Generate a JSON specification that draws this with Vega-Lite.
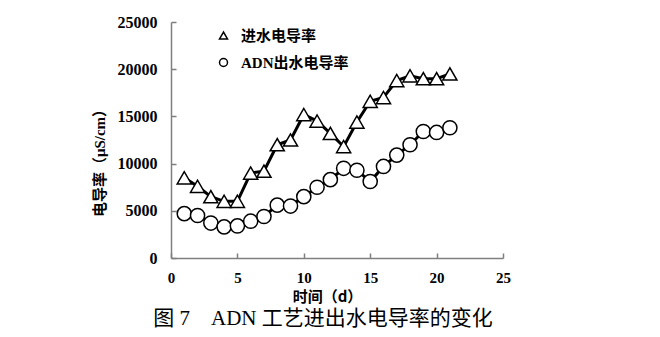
{
  "$schema": "https://vega.github.io/schema/vega-lite/v6.json",
  "width": 332,
  "height": 236,
  "autosize": {"type": "none"},
  "padding": {"left": 171, "top": 22, "right": 157, "bottom": 79},
  "background": "white",
  "config": {"view": {"stroke": null}},
  "title": {
    "text": "图 7　ADN 工艺进出水电导率的变化",
    "orient": "bottom",
    "anchor": "middle",
    "dx": -14,
    "offset": 4,
    "font": "Liberation Serif, Noto Sans CJK SC",
    "fontSize": 21,
    "fontWeight": "normal",
    "color": "#000000"
  },
  "data": {
    "values": [
      {"day": 1, "series": "进水电导率", "value": 8500},
      {"day": 2, "series": "进水电导率", "value": 7600},
      {"day": 3, "series": "进水电导率", "value": 6500},
      {"day": 4, "series": "进水电导率", "value": 6000},
      {"day": 5, "series": "进水电导率", "value": 6000},
      {"day": 6, "series": "进水电导率", "value": 9000},
      {"day": 7, "series": "进水电导率", "value": 9200},
      {"day": 8, "series": "进水电导率", "value": 12000},
      {"day": 9, "series": "进水电导率", "value": 12500},
      {"day": 10, "series": "进水电导率", "value": 15200},
      {"day": 11, "series": "进水电导率", "value": 14500},
      {"day": 12, "series": "进水电导率", "value": 13200},
      {"day": 13, "series": "进水电导率", "value": 11800},
      {"day": 14, "series": "进水电导率", "value": 14400},
      {"day": 15, "series": "进水电导率", "value": 16600},
      {"day": 16, "series": "进水电导率", "value": 17000},
      {"day": 17, "series": "进水电导率", "value": 18800},
      {"day": 18, "series": "进水电导率", "value": 19300},
      {"day": 19, "series": "进水电导率", "value": 19000},
      {"day": 20, "series": "进水电导率", "value": 19000},
      {"day": 21, "series": "进水电导率", "value": 19500},
      {"day": 1, "series": "ADN出水电导率", "value": 4700},
      {"day": 2, "series": "ADN出水电导率", "value": 4500},
      {"day": 3, "series": "ADN出水电导率", "value": 3700},
      {"day": 4, "series": "ADN出水电导率", "value": 3300},
      {"day": 5, "series": "ADN出水电导率", "value": 3400},
      {"day": 6, "series": "ADN出水电导率", "value": 3900},
      {"day": 7, "series": "ADN出水电导率", "value": 4400},
      {"day": 8, "series": "ADN出水电导率", "value": 5600},
      {"day": 9, "series": "ADN出水电导率", "value": 5500},
      {"day": 10, "series": "ADN出水电导率", "value": 6500},
      {"day": 11, "series": "ADN出水电导率", "value": 7500},
      {"day": 12, "series": "ADN出水电导率", "value": 8300},
      {"day": 13, "series": "ADN出水电导率", "value": 9500},
      {"day": 14, "series": "ADN出水电导率", "value": 9300},
      {"day": 15, "series": "ADN出水电导率", "value": 8100},
      {"day": 16, "series": "ADN出水电导率", "value": 9700},
      {"day": 17, "series": "ADN出水电导率", "value": 10900},
      {"day": 18, "series": "ADN出水电导率", "value": 12000},
      {"day": 19, "series": "ADN出水电导率", "value": 13400},
      {"day": 20, "series": "ADN出水电导率", "value": 13300},
      {"day": 21, "series": "ADN出水电导率", "value": 13800}
    ]
  },
  "encoding": {
    "x": {
      "field": "day",
      "type": "quantitative",
      "scale": {"domain": [0, 25], "nice": false, "zero": false},
      "axis": {
        "values": [0, 5, 10, 15, 20, 25],
        "grid": false,
        "title": "时间（d）",
        "titleFont": "Noto Sans CJK SC",
        "titleFontWeight": "bold",
        "titleFontSize": 15,
        "titleColor": "#000000",
        "titleX": 156,
        "titlePadding": 4,
        "labelFont": "Liberation Serif",
        "labelFontWeight": "bold",
        "labelFontSize": 15,
        "labelColor": "#000000",
        "labelPadding": 17,
        "labelFlush": false,
        "domainColor": "#7f7f7f",
        "domainWidth": 1.5,
        "tickColor": "#7f7f7f",
        "tickWidth": 1.5,
        "tickSize": -5
      }
    },
    "y": {
      "field": "value",
      "type": "quantitative",
      "scale": {"domain": [0, 25000], "nice": false},
      "axis": {
        "values": [0, 5000, 10000, 15000, 20000, 25000],
        "format": "d",
        "grid": false,
        "title": "电导率（μS/cm）",
        "titleFont": "Liberation Serif, Noto Sans CJK SC",
        "titleFontWeight": "bold",
        "titleFontSize": 15,
        "titleColor": "#000000",
        "titleY": 137,
        "titlePadding": 10,
        "labelFont": "Liberation Serif",
        "labelFontWeight": "bold",
        "labelFontSize": 16,
        "labelColor": "#000000",
        "labelPadding": 19,
        "labelFlush": false,
        "domainColor": "#7f7f7f",
        "domainWidth": 1.5,
        "tickColor": "#7f7f7f",
        "tickWidth": 1.5,
        "tickSize": -5
      }
    }
  },
  "layer": [
    {
      "mark": {"type": "line", "color": "#000000", "strokeWidth": 3},
      "encoding": {"detail": {"field": "series", "type": "nominal"}}
    },
    {
      "mark": {"type": "point", "filled": true, "fill": "#ffffff", "strokeWidth": 1.5, "opacity": 1, "size": 200},
      "encoding": {
        "stroke": {
          "field": "series",
          "type": "nominal",
          "scale": {"domain": ["进水电导率", "ADN出水电导率"], "range": ["#000000", "#000000"]},
          "legend": {
            "title": null,
            "orient": "none",
            "legendX": 45,
            "legendY": 6,
            "symbolSize": 64,
            "labelFont": "Liberation Serif, Noto Sans CJK SC",
            "labelFontWeight": "bold",
            "labelFontSize": 15,
            "labelColor": "#000000",
            "labelOffset": 10,
            "rowPadding": 11,
            "encode": {
              "symbols": {
                "shape": {"value": {"signal": "datum.value === '进水电导率' ? 'M-4.5,0H-1M1,0H4.6M0,-1L1.1,0.8L-1.1,0.8Z' : 'M-4.5,0H-1M1,0H4.6M1,0A1,1 0 1,1 -1,0A1,1 0 1,1 1,0Z'"}},
                "strokeWidth": {"value": 2}
              }
            }
          }
        },
        "shape": {
          "field": "series",
          "type": "nominal",
          "scale": {"domain": ["进水电导率", "ADN出水电导率"], "range": ["triangle-up", "circle"]},
          "legend": {
            "title": null,
            "orient": "none",
            "legendX": 45,
            "legendY": 6,
            "symbolSize": 64,
            "labelFont": "Liberation Serif, Noto Sans CJK SC",
            "labelFontWeight": "bold",
            "labelFontSize": 15,
            "labelColor": "#000000",
            "labelOffset": 10,
            "rowPadding": 11,
            "encode": {
              "symbols": {
                "shape": {"value": {"signal": "datum.value === '进水电导率' ? 'M-4.5,0H-1M1,0H4.6M0,-1L1.1,0.8L-1.1,0.8Z' : 'M-4.5,0H-1M1,0H4.6M1,0A1,1 0 1,1 -1,0A1,1 0 1,1 1,0Z'"}},
                "strokeWidth": {"value": 2}
              }
            }
          }
        }
      }
    }
  ]
}
